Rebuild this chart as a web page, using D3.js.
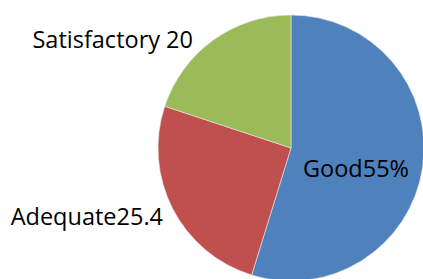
<!DOCTYPE html>
<html>
<head>
<meta charset="utf-8">
<script src="https://cdn.jsdelivr.net/npm/d3@7"></script>
<style>
  body { margin: 0; background: #fff; }
  text { font-family: "Open Sans", sans-serif; fill: #000; }
</style>
</head>
<body>
<script>
// data
var categories = ["Good", "Adequate", "Satisfactory"];
var values = [55, 25.4, 20];
var labels = ["Good55%", "Adequate25.4", "Satisfactory 20"];
var colors = ["#4F81BD", "#C0504D", "#9BBB59"];

var width = 423, height = 279;

var svg = d3.select("body").append("svg")
    .attr("width", width)
    .attr("height", height);

var data = categories.map(function(c, i) {
  return { name: c, value: values[i], label: labels[i] };
});

var pie = d3.pie().sort(null).value(function(d) { return d.value; });
var radius = 133;
var arc = d3.arc().innerRadius(0).outerRadius(radius);

var g = svg.append("g")
    .attr("transform", "translate(291,148)");

g.selectAll("path")
  .data(pie(data))
  .enter()
  .append("path")
  .attr("d", arc)
  .attr("fill", function(d, i) { return colors[i]; })
  .attr("stroke", "#e8e8e8")
  .attr("stroke-width", 0.6);

// label spots, x/y/anchor
var labelPos = [
  { x: 303, y: 177, anchor: "start" },
  { x: 163, y: 225, anchor: "end" },
  { x: 193, y: 48, anchor: "end" }
];

svg.selectAll("text.lbl")
  .data(data)
  .enter()
  .append("text")
  .attr("class", "lbl")
  .attr("x", function(d, i) { return labelPos[i].x; })
  .attr("y", function(d, i) { return labelPos[i].y; })
  .attr("text-anchor", function(d, i) { return labelPos[i].anchor; })
  .style("font-size", "23.5px")
  .text(function(d) { return d.label; });
</script>
</body>
</html>
